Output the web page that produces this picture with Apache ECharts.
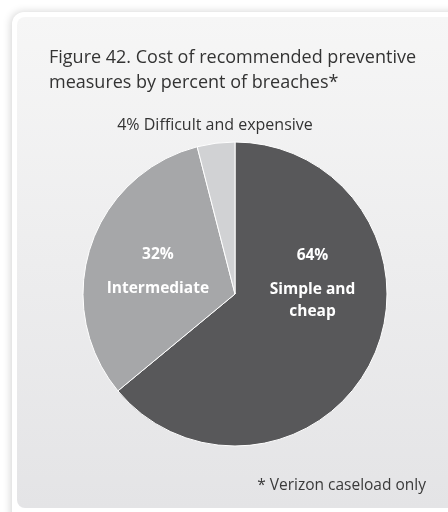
<!DOCTYPE html>
<html>
<head>
<meta charset="utf-8">
<script src="https://cdn.jsdelivr.net/npm/echarts@6/dist/echarts.min.js"></script>
<style>
  html, body { margin: 0; padding: 0; background: #fff; }
  #chart { width: 448px; height: 512px; }
</style>
</head>
<body>
<div id="chart"></div>
<script>
var categories = ["Simple and cheap", "Intermediate", "Difficult and expensive"]
var percents = [64, 32, 4]
var labelTexts = [["Simple and", "cheap"], ["Intermediate"], ["Difficult and expensive"]]
var sliceColors = ["#58585a", "#a6a7a9", "#d1d2d4"]

var chart = echarts.init(document.querySelector("#chart"))

var option = {
    animation: false,
    backgroundColor: "#ffffff",
    graphic: [
        {
            type: "rect",
            z: -10,
            shape: { x: 12, y: 12, width: 460, height: 520, r: 12 },
            style: {
                fill: "#ffffff",
                shadowBlur: 8,
                shadowColor: "rgba(0,0,0,0.18)",
                shadowOffsetX: -1,
                shadowOffsetY: 0
            }
        },
        {
            type: "rect",
            z: -9,
            shape: { x: 17, y: 17, width: 450, height: 491, r: 8 },
            style: {
                fill: new echarts.graphic.LinearGradient(0, 0, 0, 1, [
                    { offset: 0, color: "#f6f6f6" },
                    { offset: 1, color: "#e4e4e6" }
                ])
            }
        },
        {
            type: "text",
            right: 22,
            top: 478,
            style: {
                text: "* Verizon caseload only",
                font: "15.5px 'Open Sans'",
                fill: "#3a3a3a"
            }
        }
    ],
    title: {
        text: "Figure 42. Cost of recommended preventive\nmeasures by percent of breaches*",
        left: 49,
        top: 45,
        padding: 0,
        textStyle: {
            fontFamily: "Open Sans",
            fontSize: 18,
            fontWeight: "normal",
            color: "#333",
            lineHeight: 25
        }
    },
    series: [{
        name: "Cost",
        type: "pie",
        center: [235, 294],
        radius: [0, 152],
        startAngle: 90,
        clockwise: true,
        itemStyle: { borderColor: "#ffffff", borderWidth: 1 },
        label: {
            position: "inside",
            color: "#ffffff",
            fontFamily: "Open Sans",
            fontWeight: "bold",
            fontSize: 15.5,
            formatter: function (p) {
                return "{p|" + p.value + "%}\n" + labelTexts[p.dataIndex].map(function (t) {
                    return "{t|" + t + "}"
                }).join("\n")
            },
            rich: {
                p: { lineHeight: 46, fontSize: 15.5, fontWeight: "bold", color: "#fff", fontFamily: "Open Sans" },
                t: { lineHeight: 22, fontSize: 15.5, fontWeight: "bold", color: "#fff", fontFamily: "Open Sans" }
            }
        },
        labelLine: { show: false },
        labelLayout: function (params) {
            if (params.dataIndex === 0) return { dx: 6, dy: -50 }
            if (params.dataIndex === 1) return { dx: -2, dy: -4 }
            return { x: 215, y: 125, align: "center", verticalAlign: "middle" }
        },
        data: percents.map(function (v, i) {
            var item = { name: categories[i], value: v, itemStyle: { color: sliceColors[i] } }
            if (i === 2) {
                item.label = {
                    position: "outside",
                    color: "#333",
                    fontWeight: "normal",
                    fontSize: 16,
                    overflow: "none",
                    width: 300,
                    formatter: function (p) { return p.value + "% " + labelTexts[p.dataIndex][0] }
                }
            }
            return item
        })
    }]
}

chart.setOption(option)
</script>
</body>
</html>
